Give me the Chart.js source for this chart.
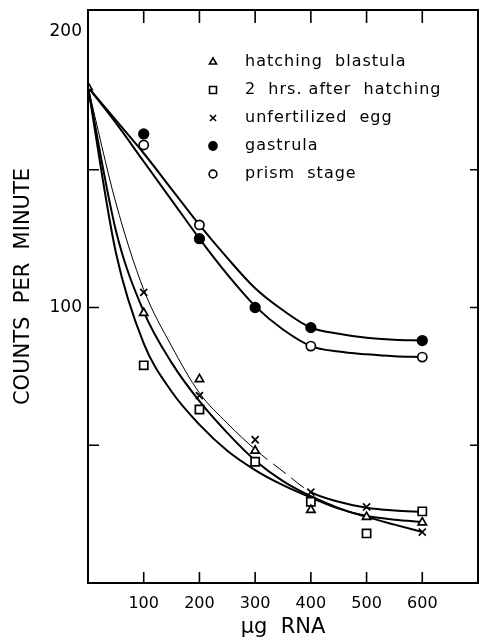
<!DOCTYPE html>
<html>
<head>
<meta charset="utf-8">
<script src="https://cdn.jsdelivr.net/npm/chart.js@4.4.0/dist/chart.umd.min.js"></script>
<style>
  html, body { margin: 0; padding: 0; background: #fff; }
  #wrap { width: 479px; height: 643px; }
</style>
</head>
<body>
<div id="wrap"><canvas id="myChart"></canvas></div>
<script>
// measured points (ug RNA vs counts per minute)
const doses = [0, 100, 200, 300, 400, 500, 600];
const blastula = [180, 98, 74, 48, 26.5, 24, 22];
const afterHatching = [null, 79, 63, 44, 29.5, 18, 26];
const unfertilized = [null, 105.5, 68, 52, 33, 27.6, 18.5];
const gastrula = [null, 163, 125, 100, 92.7, null, 88];
const prism = [null, 159, 130, null, 86, null, 82];

// the hand drawn curves
const curveX = [0, 50, 100, 150, 200, 250, 300, 350, 400, 450, 500, 550, 600];
const fitUpper = [180, 168, 156, 143, 130, 118, 107, 99, 92.7, 90.5, 89, 88.3, 88];
const fitLower = [180, 167, 153, 139, 125, 112, 100.5, 92, 86, 84, 83, 82.3, 82];
const fitThin = [180, 138, 106.5, 86, 69, 58, 48.5, 40.5, 33, 29.5, 27.3, 26.3, 25.8];
const fitLeft = [180, 120, 87, 69.5, 57.5, 48, 41, 35.5, 31, 27, 24.3, 23, 22.2];
const fitMid = [180, 128, 98.5, 80, 66, 54.5, 44.5, 37, 31.5, 27.2, 24, 21.2, 18.5];

const xTicks = [100, 200, 300, 400, 500, 600];
const yLabels = [100, 200];
const ySideTicks = [50, 100, 150];

const font = 'DejaVu Sans';

function pts(xs, ys) {
  return xs.map((x, i) => ({ x: x, y: ys[i] })).filter(p => p.y !== null);
}

function curve(ys, width) {
  return {
    type: 'line',
    data: pts(curveX, ys),
    borderColor: '#000',
    borderWidth: width,
    pointRadius: 0,
    cubicInterpolationMode: 'monotone',
    fill: false,
    order: 2
  };
}

function marks(label, ys, style, radius, filled) {
  return {
    type: 'scatter',
    label: label,
    data: pts(doses, ys),
    pointStyle: style,
    pointRadius: radius,
    pointBorderWidth: 1.7,
    borderColor: '#000',
    backgroundColor: filled ? '#000' : '#fff',
    order: 1
  };
}

const thin = curve(fitThin, 1);
thin.segment = {
  borderWidth: c => c.p0.parsed.x >= 400 ? 2 : 1,
  borderDash: c => (c.p0.parsed.x >= 300 && c.p0.parsed.x < 400) ? [16, 7] : []
};

const series = [
  marks('hatching  blastula', blastula, 'triangle', 4.8, false),
  marks('2  hrs. after  hatching', afterHatching, 'rect', 5.8, false),
  marks('unfertilized  egg', unfertilized, 'crossRot', 5, false),
  marks('gastrula', gastrula, 'circle', 4.8, true),
  marks('prism  stage', prism, 'circle', 4.6, false)
];

// frame, inward ticks and the legend inside the plot
const framePlugin = {
  id: 'frame',
  afterDraw(chart) {
    const { ctx, chartArea: a, scales: { x, y } } = chart;
    ctx.save();
    ctx.strokeStyle = '#000';
    ctx.lineWidth = 2;
    ctx.strokeRect(a.left, a.top, a.right - a.left, a.bottom - a.top);
    ctx.lineWidth = 1.6;
    ctx.beginPath();
    xTicks.forEach(v => {
      const px = x.getPixelForValue(v);
      ctx.moveTo(px, a.bottom); ctx.lineTo(px, a.bottom - 11);
      ctx.moveTo(px, a.top); ctx.lineTo(px, a.top + 13);
    });
    ySideTicks.forEach(v => {
      const py = y.getPixelForValue(v);
      ctx.moveTo(a.left, py); ctx.lineTo(a.left + 11, py);
      ctx.moveTo(a.right, py); ctx.lineTo(a.right - 8, py);
    });
    ctx.stroke();

    // legend
    ctx.font = '16px "' + font + '"';
    ctx.letterSpacing = '1px';
    ctx.textBaseline = 'middle';
    ctx.textAlign = 'left';
    series.forEach((ds, i) => {
      const cy = 62 + i * 28;
      ctx.fillStyle = ds.backgroundColor;
      ctx.strokeStyle = '#000';
      ctx.lineWidth = 1.6;
      Chart.helpers.drawPoint(ctx, {
        pointStyle: ds.pointStyle,
        radius: ds.pointRadius * 0.85,
        rotation: 0,
        borderWidth: 1.6
      }, 213, cy);
      ctx.fillStyle = '#000';
      ctx.fillText(ds.label, 245, cy);
    });
    ctx.restore();
  }
};

const ctx = document.getElementById('myChart').getContext('2d');

new Chart(ctx, {
  data: {
    datasets: [
      curve(fitUpper, 2),
      curve(fitLower, 2),
      thin,
      curve(fitLeft, 2),
      curve(fitMid, 2),
      ...series
    ]
  },
  options: {
    responsive: true,
    maintainAspectRatio: false,
    animation: false,
    layout: { autoPadding: false, padding: { top: 10, right: 1, left: 0, bottom: 0 } },
    plugins: {
      legend: { display: false },
      tooltip: { enabled: false }
    },
    scales: {
      x: {
        type: 'linear',
        min: 0,
        max: 700,
        afterFit(s) { s.height = 60; s.paddingLeft = 0; s.paddingRight = 0; },
        grid: { display: false, drawTicks: false },
        border: { display: false },
        ticks: {
          stepSize: 100,
          padding: 11,
          color: '#000',
          font: { family: font, size: 16 },
          maxRotation: 0,
          callback: v => xTicks.includes(v) ? String(v) : ''
        },
        title: {
          display: true,
          text: '\u00b5g  RNA',
          color: '#000',
          font: { family: font, size: 21 },
          padding: { top: 0, bottom: 3 }
        }
      },
      y: {
        type: 'linear',
        min: 0,
        max: 208,
        afterFit(s) { s.width = 88; s.paddingTop = 0; s.paddingBottom = 0; },
        grid: { display: false, drawTicks: false },
        border: { display: false },
        ticks: {
          stepSize: 50,
          padding: 6,
          color: '#000',
          font: { family: font, size: 17 },
          callback: v => yLabels.includes(v) ? String(v) : ''
        },
        title: {
          display: true,
          text: '   COUNTS  PER  MINUTE',
          color: '#000',
          font: { family: font, size: 21 },
          padding: { top: 11, bottom: 0 }
        }
      }
    }
  },
  plugins: [framePlugin]
});
</script>
</body>
</html>
